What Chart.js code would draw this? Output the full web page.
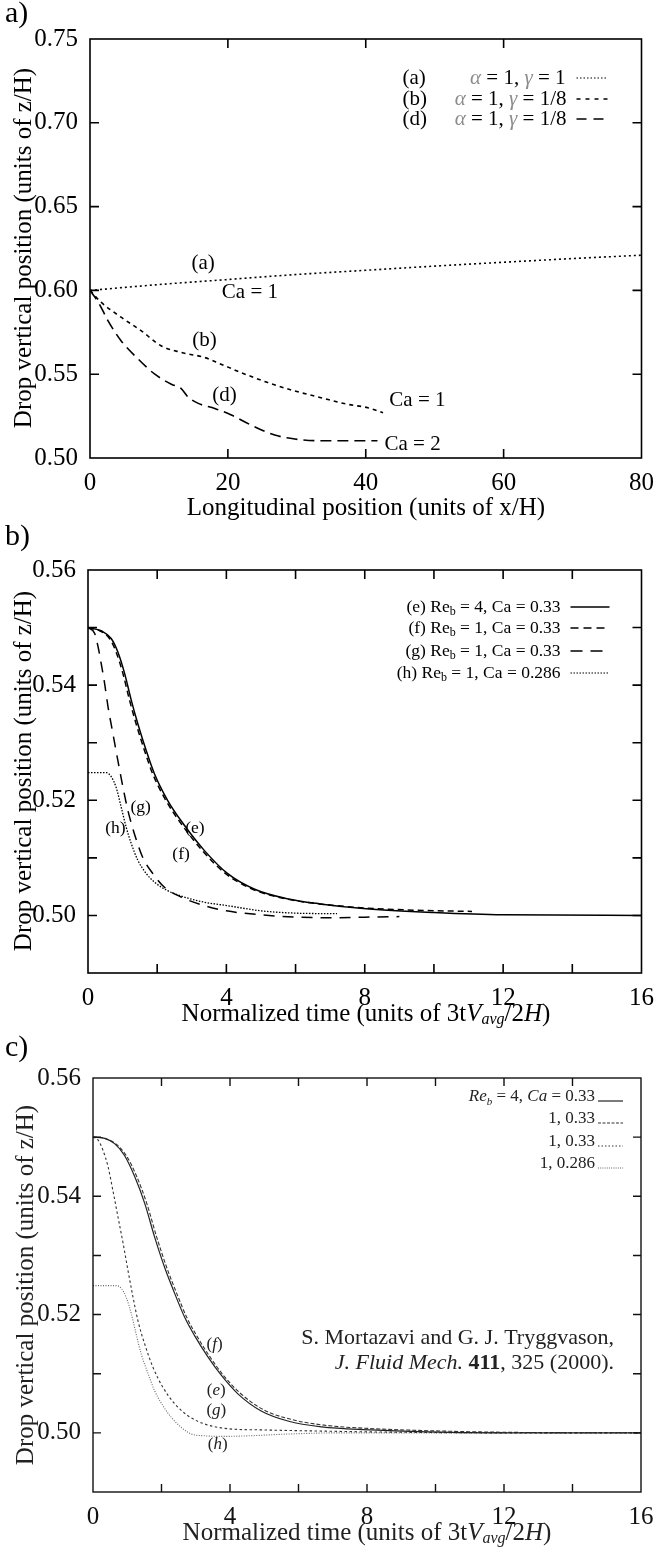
<!DOCTYPE html>
<html>
<head>
<meta charset="utf-8">
<script src="https://cdn.jsdelivr.net/npm/chart.js@4.4.1/dist/chart.umd.min.js"></script>
<style>
html,body{margin:0;padding:0;background:#fff;}
#wrap{position:relative;width:656px;height:1554px;overflow:hidden;background:#fff;}
#wrap canvas{position:absolute;left:0;}
</style>
</head>
<body>
<div id="wrap">
<canvas id="ca" width="656" height="540" style="top:0px"></canvas>
<canvas id="cb" width="656" height="540" style="top:500px"></canvas>
<canvas id="cc" width="656" height="544" style="top:1010px"></canvas>
</div>
<script>
// ---------------- Panel a data ----------------
const aTicksX = [0, 20, 40, 60, 80];
const aTicksY = [0.50, 0.55, 0.60, 0.65, 0.70, 0.75];
const aCurveA_x = [0, 10, 20, 30, 40, 50, 60, 70, 80];
const aCurveA_y = [0.600, 0.6035, 0.6065, 0.6095, 0.612, 0.6145, 0.6168, 0.619, 0.621];
const aCurveB_x = [0, 1.6, 4.5, 7.4, 10.3, 13.2, 16.6, 19.0, 21.9, 25.8, 29.7, 33.5, 37.4, 40.3, 42.5];
const aCurveB_y = [0.600, 0.593, 0.584, 0.576, 0.567, 0.563, 0.560, 0.556, 0.551, 0.545, 0.540, 0.536, 0.532, 0.530, 0.527];
const aCurveD_x = [0, 1.2, 2.6, 4.5, 7.0, 9.4, 11.8, 13.2, 14.2, 15.7, 18.1, 20.5, 23.4, 26.8, 29.7, 33.5, 41.7];
const aCurveD_y = [0.600, 0.593, 0.582, 0.570, 0.559, 0.550, 0.544, 0.5415, 0.5365, 0.5326, 0.5296, 0.5256, 0.5196, 0.5137, 0.5113, 0.5103, 0.5103];

// ---------------- Panel b data ----------------
const bTicksX = [0, 4, 8, 12, 16];
const bMinorX = [2, 6, 10, 14];
const bTicksY = [0.50, 0.52, 0.54, 0.56];
const bMinorY = [0.51, 0.53, 0.55];
const bE_x = [0, 0.4, 0.67, 0.86, 1.06, 1.25, 1.44, 1.68, 1.92, 2.30, 2.78, 3.36, 4.03, 4.80, 5.76, 6.71, 7.96, 10, 12, 16];
const bE_y = [0.5500, 0.5494, 0.5481, 0.5458, 0.5420, 0.5374, 0.5333, 0.5287, 0.5246, 0.5200, 0.5157, 0.5113, 0.5073, 0.5046, 0.5029, 0.5020, 0.5012, 0.5005, 0.5001, 0.5000];
const bF_x = [0, 0.35, 0.62, 0.81, 1.01, 1.2, 1.39, 1.63, 1.87, 2.25, 2.72, 3.3, 3.97, 4.74, 5.7, 6.7, 8.0, 9.5, 11.1];
const bF_y = [0.5500, 0.5494, 0.5481, 0.5458, 0.5420, 0.5374, 0.5333, 0.5287, 0.5246, 0.5200, 0.5157, 0.5113, 0.5073, 0.5046, 0.5029, 0.5020, 0.5013, 0.5009, 0.5007];
const bG_x = [0, 0.19, 0.29, 0.38, 0.48, 0.58, 0.72, 0.86, 1.01, 1.15, 1.34, 1.58, 1.87, 2.21, 2.69, 3.36, 4, 5, 6, 7, 8, 9];
const bG_y = [0.5500, 0.5490, 0.5467, 0.5438, 0.5403, 0.5362, 0.5316, 0.5270, 0.5223, 0.5183, 0.5142, 0.5101, 0.5073, 0.5049, 0.5032, 0.5017, 0.5008, 0.5001, 0.4997, 0.4996, 0.4997, 0.4998];
const bH_x = [0, 0.53, 0.67, 0.81, 0.96, 1.10, 1.25, 1.44, 1.68, 1.92, 2.30, 2.78, 3.36, 4.03, 5, 6, 7.2];
const bH_y = [0.5248, 0.5248, 0.5241, 0.5223, 0.5188, 0.5154, 0.5125, 0.5096, 0.5073, 0.5058, 0.5043, 0.5032, 0.5023, 0.5017, 0.5008, 0.5004, 0.5003];

// ---------------- Panel c data ----------------
const cTicksX = [0, 4, 8, 12, 16];
const cMinorX = [2, 6, 10, 14];
const cTicksY = [0.50, 0.52, 0.54, 0.56];
const cMinorY = [0.51, 0.53, 0.55];
const cE_x = [0, 0.34, 0.63, 0.92, 1.22, 1.51, 1.80, 2.09, 2.39, 2.68, 2.97, 3.36, 3.75, 4.23, 4.91, 5.69, 6.67, 8.13, 9.49, 12, 16];
const cE_y = [0.5500, 0.5498, 0.5489, 0.5469, 0.5433, 0.5388, 0.5331, 0.5280, 0.5235, 0.5195, 0.5164, 0.5128, 0.5097, 0.5066, 0.5037, 0.5020, 0.5010, 0.5005, 0.5002, 0.5000, 0.5000];
const cF_x = [0, 0.34, 0.66, 0.97, 1.28, 1.57, 1.86, 2.15, 2.45, 2.74, 3.03, 3.42, 3.81, 4.30, 4.98, 5.77, 6.75, 8.2, 9.6, 12, 16];
const cF_y = [0.5500, 0.5498, 0.5489, 0.5469, 0.5433, 0.5388, 0.5331, 0.5280, 0.5235, 0.5195, 0.5164, 0.5128, 0.5097, 0.5067, 0.5039, 0.5023, 0.5013, 0.5007, 0.5004, 0.5001, 0.5000];
const cG_x = [0, 0.15, 0.29, 0.44, 0.58, 0.73, 0.88, 1.02, 1.17, 1.31, 1.51, 1.75, 2.04, 2.39, 2.77, 3.26, 3.94, 4.91, 6.67, 9, 12, 16];
const cG_y = [0.5500, 0.5495, 0.5478, 0.5450, 0.5410, 0.5365, 0.5320, 0.5275, 0.5229, 0.5190, 0.5150, 0.5111, 0.5077, 0.5049, 0.5029, 0.5015, 0.5007, 0.5005, 0.5003, 0.5001, 0.5000, 0.5000];
const cH_x = [0, 0.68, 0.83, 0.97, 1.12, 1.26, 1.41, 1.61, 1.80, 2.04, 2.29, 2.58, 2.87, 3.26, 3.75, 4.53, 5.69, 7.15, 10, 12];
const cH_y = [0.5249, 0.5249, 0.5244, 0.5229, 0.5201, 0.5167, 0.5133, 0.5100, 0.5071, 0.5046, 0.5026, 0.5009, 0.4998, 0.4995, 0.4994, 0.4995, 0.4998, 0.5000, 0.5000, 0.5000];

// ---------------- helpers ----------------
const SERIF = "'Liberation Serif', 'Times New Roman', serif";
function F(size, style, weight) { return [style || '', weight || '', size + 'px', SERIF].join(' ').trim(); }
function T(t, font, c, dy) { return { t: t, f: font, c: c, dy: dy || 0 }; }
function zip(xs, ys) { return xs.map((x, i) => ({ x: x, y: ys[i] })); }

function richWidth(ctx, segs) {
  let w = 0;
  for (const s of segs) { ctx.font = s.f; w += ctx.measureText(s.t).width; }
  return w;
}
function drawRich(ctx, segs, x, y, align, defColor) {
  const w = richWidth(ctx, segs);
  let cx = align === 'right' ? x - w : (align === 'center' ? x - w / 2 : x);
  ctx.textBaseline = 'middle';
  ctx.textAlign = 'left';
  for (const s of segs) {
    ctx.font = s.f;
    ctx.fillStyle = s.c || defColor || '#000';
    ctx.fillText(s.t, cx, y + s.dy);
    cx += ctx.measureText(s.t).width;
  }
}
function sampleLine(ctx, x1, x2, y, dash, color, lw) {
  ctx.save();
  ctx.setLineDash(dash);
  ctx.strokeStyle = color;
  ctx.lineWidth = lw;
  ctx.beginPath();
  ctx.moveTo(x1, y);
  ctx.lineTo(x2, y);
  ctx.stroke();
  ctx.restore();
}

const decoPlugin = {
  id: 'deco',
  afterDraw(chart, args, o) {
    const ctx = chart.ctx, ca = chart.chartArea;
    const xs = chart.scales.x, ys = chart.scales.y;
    const off = o.offY;
    ctx.save();
    ctx.setLineDash([]);
    ctx.strokeStyle = o.axisColor;
    ctx.lineWidth = o.axisWidth;
    ctx.strokeRect(ca.left, ca.top, ca.right - ca.left, ca.bottom - ca.top);
    const L = o.tickLen, eps = 1e-9;
    ctx.beginPath();
    for (const v of o.xTickVals) {
      if (v <= xs.min + eps || v >= xs.max - eps) continue;
      const p = xs.getPixelForValue(v);
      ctx.moveTo(p, ca.bottom); ctx.lineTo(p, ca.bottom - L);
      ctx.moveTo(p, ca.top); ctx.lineTo(p, ca.top + L);
    }
    for (const v of o.yTickVals) {
      if (v <= ys.min + eps || v >= ys.max - eps) continue;
      const p = ys.getPixelForValue(v);
      ctx.moveTo(ca.left, p); ctx.lineTo(ca.left + L, p);
      ctx.moveTo(ca.right, p); ctx.lineTo(ca.right - L, p);
    }
    ctx.stroke();
    for (const t of o.texts) {
      if (t.rot) {
        ctx.save();
        ctx.translate(t.x, t.y - off);
        ctx.rotate(-Math.PI / 2);
        drawRich(ctx, t.segs, 0, 0, 'center', o.textColor);
        ctx.restore();
      } else {
        drawRich(ctx, t.segs, t.x, t.y - off, t.align, o.textColor);
      }
    }
    for (const n of o.notes) {
      drawRich(ctx, n.segs, xs.getPixelForValue(n.x), ys.getPixelForValue(n.y), 'center', o.textColor);
    }
    for (const r of o.legend) {
      const y = ca.top + r.dy;
      if (r.label) drawRich(ctx, r.label, ca.right - r.lx, y, 'left', o.textColor);
      drawRich(ctx, r.segs, ca.right - r.rx, y, 'right', o.textColor);
      if (r.dash) sampleLine(ctx, ca.right - r.x1, ca.right - r.x2, y + (r.ly || 0), r.dash, r.color, r.lw);
    }
    for (const e of (o.extra || [])) {
      drawRich(ctx, e.segs, ca.right - e.rx, ca.top + e.dy, e.align || 'right', o.textColor);
    }
    ctx.restore();
  }
};

function makeChart(id, cfg) {
  const canvas = document.getElementById(id);
  const H = canvas.height;
  const off = cfg.offY;
  const ds = cfg.series.map(s => ({
    data: s.data,
    borderColor: s.color,
    borderWidth: s.lw,
    borderDash: s.dash,
    pointRadius: 0,
    fill: false,
    cubicInterpolationMode: 'monotone',
    tension: 0.4
  }));
  return new Chart(canvas, {
    type: 'line',
    data: { datasets: ds },
    options: {
      responsive: false,
      animation: false,
      events: [],
      layout: { padding: { top: cfg.top - off, right: 656 - cfg.right, left: 0, bottom: 0 } },
      plugins: { legend: { display: false }, tooltip: { enabled: false }, deco: cfg.deco },
      scales: {
        x: {
          type: 'linear', min: cfg.xMin, max: cfg.xMax,
          grid: { display: false }, border: { display: false },
          afterBuildTicks: sc => { sc.ticks = cfg.xLabels.map(v => ({ value: v })); },
          afterFit: sc => { sc.height = H - (cfg.bottom - off); },
          ticks: { autoSkip: false, maxRotation: 0, padding: 2, color: cfg.tickColor,
                   font: { family: SERIF, size: cfg.tickSize }, callback: v => String(v) }
        },
        y: {
          type: 'linear', min: cfg.yMin, max: cfg.yMax,
          grid: { display: false }, border: { display: false },
          afterBuildTicks: sc => { sc.ticks = cfg.yLabels.map(v => ({ value: v })); },
          afterFit: sc => { sc.width = cfg.left; },
          ticks: { autoSkip: false, padding: 4, color: cfg.tickColor,
                   font: { family: SERIF, size: cfg.tickSize }, callback: v => Number(v).toFixed(2) }
        }
      }
    },
    plugins: [decoPlugin]
  });
}

const GRAY = '#8c8c8c';
const yTitle = 'Drop vertical position (units of z/H)';
function timeTitle(sz) {
  return [T('Normalized time (units of 3t', F(sz)), T('V', F(sz, 'italic')), T('avg', F(Math.round(sz * 0.62), 'italic'), null, 6),
          T('/2', F(sz)), T('H', F(sz, 'italic')), T(')', F(sz))];
}

// ---------------- Panel a ----------------
const la = 21;
makeChart('ca', {
  offY: 0, left: 90, right: 642, top: 39, bottom: 458,
  xMin: 0, xMax: 80, yMin: 0.50, yMax: 0.75,
  xLabels: aTicksX, yLabels: aTicksY, tickSize: 25, tickColor: '#000',
  series: [
    { data: zip(aCurveA_x, aCurveA_y), color: '#000', lw: 1.6, dash: [2, 3] },
    { data: zip(aCurveB_x, aCurveB_y), color: '#000', lw: 1.6, dash: [4, 4] },
    { data: zip(aCurveD_x, aCurveD_y), color: '#000', lw: 1.6, dash: [11, 6] }
  ],
  deco: {
    offY: 0, tickLen: 9, axisWidth: 1.6, axisColor: '#000', textColor: '#000',
    xTickVals: aTicksX, yTickVals: aTicksY,
    texts: [
      { segs: [T('a)', F(30))], x: 5, y: 14, align: 'left' },
      { segs: [T('Longitudinal position (units of x/H)', F(25))], x: 366, y: 508, align: 'center' },
      { segs: [T(yTitle, F(25))], x: 24, y: 248, rot: true }
    ],
    notes: [
      { segs: [T('(a)', F(la))], x: 16.4, y: 0.616 },
      { segs: [T('Ca = 1', F(la))], x: 23.2, y: 0.599 },
      { segs: [T('(b)', F(la))], x: 16.6, y: 0.570 },
      { segs: [T('Ca = 1', F(la))], x: 47.5, y: 0.5345 },
      { segs: [T('(d)', F(la))], x: 19.5, y: 0.5375 },
      { segs: [T('Ca = 2', F(la))], x: 46.8, y: 0.5083 }
    ],
    legend: [
      { label: [T('(a)', F(la))], lx: 239, segs: [T('α', F(la, 'italic'), GRAY), T(' = 1, ', F(la)), T('γ', F(la, 'italic'), GRAY), T(' = 1', F(la))],
        rx: 76, dy: 39, x1: 65, x2: 34, dash: [1.5, 2], color: '#000', lw: 1.2 },
      { label: [T('(b)', F(la))], lx: 239, segs: [T('α', F(la, 'italic'), GRAY), T(' = 1, ', F(la)), T('γ', F(la, 'italic'), GRAY), T(' = 1/8', F(la))],
        rx: 75, dy: 60, x1: 65, x2: 34, dash: [4, 5], color: '#000', lw: 1.5 },
      { label: [T('(d)', F(la))], lx: 239, segs: [T('α', F(la, 'italic'), GRAY), T(' = 1, ', F(la)), T('γ', F(la, 'italic'), GRAY), T(' = 1/8', F(la))],
        rx: 75, dy: 80, x1: 65, x2: 34, dash: [10, 7], color: '#000', lw: 1.5 }
    ]
  }
});

// ---------------- Panel b ----------------
const lb = 17.5;
function reRow(tag, re, ca) {
  return [T(tag + ' Re', F(lb)), T('b', F(12), null, 5), T(' = ' + re + ', Ca = ' + ca, F(lb))];
}
makeChart('cb', {
  offY: 500, left: 88, right: 644, top: 570, bottom: 973,
  xMin: 0, xMax: 16, yMin: 0.49, yMax: 0.56,
  xLabels: bTicksX, yLabels: bTicksY, tickSize: 25, tickColor: '#000',
  series: [
    { data: zip(bE_x, bE_y), color: '#000', lw: 1.5, dash: [] },
    { data: zip(bF_x, bF_y), color: '#000', lw: 1.5, dash: [6, 4] },
    { data: zip(bG_x, bG_y), color: '#000', lw: 1.5, dash: [11, 8] },
    { data: zip(bH_x, bH_y), color: '#000', lw: 1.3, dash: [1.5, 1.5] }
  ],
  deco: {
    offY: 500, tickLen: 9, axisWidth: 1.6, axisColor: '#000', textColor: '#000',
    xTickVals: bTicksX.concat(bMinorX), yTickVals: bTicksY.concat(bMinorY),
    texts: [
      { segs: [T('b)', F(30))], x: 5, y: 537, align: 'left' },
      { segs: timeTitle(25), x: 366, y: 1014, align: 'center' },
      { segs: [T(yTitle, F(25))], x: 24, y: 771, rot: true }
    ],
    notes: [
      { segs: [T('(e)', F(lb))], x: 3.09, y: 0.5152 },
      { segs: [T('(f)', F(lb))], x: 2.69, y: 0.5106 },
      { segs: [T('(g)', F(lb))], x: 1.52, y: 0.5187 },
      { segs: [T('(h)', F(lb))], x: 0.79, y: 0.5152 }
    ],
    legend: [
      { segs: reRow('(e)', '4', '0.33'), rx: 81, dy: 37, x1: 71, x2: 32, dash: [], color: '#000', lw: 1.5 },
      { segs: reRow('(f)', '1', '0.33'), rx: 81, dy: 58, x1: 71, x2: 32, dash: [8, 5], color: '#000', lw: 1.5 },
      { segs: reRow('(g)', '1', '0.33'), rx: 81, dy: 81, x1: 71, x2: 32, dash: [12, 8], color: '#000', lw: 1.5 },
      { segs: reRow('(h)', '1', '0.286'), rx: 81, dy: 103, x1: 71, x2: 32, dash: [1.5, 1.5], color: '#000', lw: 1.2 }
    ]
  }
});

// ---------------- Panel c ----------------
const lc = 17;
const cText = '#222';
makeChart('cc', {
  offY: 1010, left: 93, right: 641, top: 1078, bottom: 1492,
  xMin: 0, xMax: 16, yMin: 0.49, yMax: 0.56,
  xLabels: cTicksX, yLabels: cTicksY, tickSize: 25, tickColor: '#111',
  series: [
    { data: zip(cE_x, cE_y), color: '#222', lw: 1.2, dash: [] },
    { data: zip(cF_x, cF_y), color: '#333', lw: 1.1, dash: [4, 2] },
    { data: zip(cG_x, cG_y), color: '#333', lw: 1.1, dash: [2.5, 2.5] },
    { data: zip(cH_x, cH_y), color: '#666', lw: 1.1, dash: [1, 1.5] }
  ],
  deco: {
    offY: 1010, tickLen: 8, axisWidth: 1.4, axisColor: '#111', textColor: cText,
    xTickVals: cTicksX.concat(cMinorX), yTickVals: cTicksY.concat(cMinorY),
    texts: [
      { segs: [T('c)', F(30), '#000')], x: 5, y: 1048, align: 'left' },
      { segs: timeTitle(25), x: 367, y: 1533, align: 'center' },
      { segs: [T(yTitle, F(25))], x: 26, y: 1285, rot: true }
    ],
    notes: [
      { segs: [T('(', F(lc)), T('f', F(lc, 'italic')), T(')', F(lc))], x: 3.55, y: 0.5150 },
      { segs: [T('(', F(lc)), T('e', F(lc, 'italic')), T(')', F(lc))], x: 3.60, y: 0.5071 },
      { segs: [T('(', F(lc)), T('g', F(lc, 'italic')), T(')', F(lc))], x: 3.60, y: 0.5038 },
      { segs: [T('(', F(lc)), T('h', F(lc, 'italic')), T(')', F(lc))], x: 3.64, y: 0.4980 }
    ],
    legend: [
      { segs: [T('Re', F(lc, 'italic')), T('b', F(11, 'italic'), null, 5), T(' = 4, ', F(lc)), T('Ca', F(lc, 'italic')), T(' = 0.33', F(lc))],
        rx: 46, dy: 19, x1: 43, x2: 18, ly: 4, dash: [], color: '#222', lw: 1.2 },
      { segs: [T('1, 0.33', F(lc))], rx: 46, dy: 41, x1: 43, x2: 18, ly: 4, dash: [3, 1.5], color: '#333', lw: 1 },
      { segs: [T('1, 0.33', F(lc))], rx: 46, dy: 64, x1: 43, x2: 18, ly: 4, dash: [1.5, 2], color: '#333', lw: 1 },
      { segs: [T('1, 0.286', F(lc))], rx: 46, dy: 86, x1: 43, x2: 18, ly: 4, dash: [1, 1.2], color: '#666', lw: 1 }
    ],
    extra: [
      { segs: [T('S. Mortazavi and G. J. Tryggvason,', F(22))], rx: 27, dy: 260 },
      { segs: [T('J. Fluid Mech.', F(22, 'italic')), T(' ', F(22)), T('411', F(22, '', 'bold')), T(', 325 (2000).', F(22))], rx: 27, dy: 285 }
    ]
  }
});
</script>
</body>
</html>
